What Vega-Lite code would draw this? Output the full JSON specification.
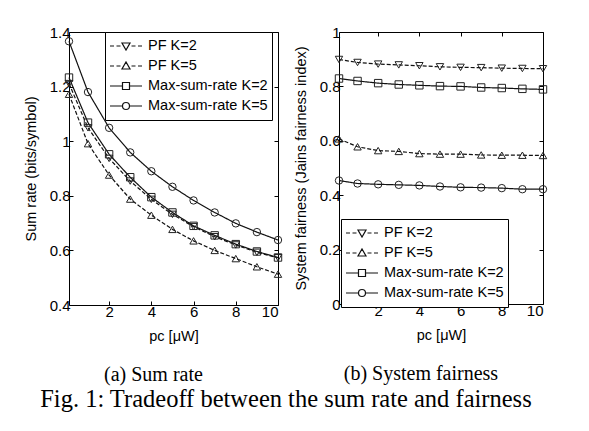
{
  "$schema": "https://vega.github.io/schema/vega-lite/v6.json",
  "background": "white",
  "padding": {"left": 23, "top": 25, "right": 5, "bottom": 5},
  "spacing": 9,
  "title": {"text": "Fig. 1: Tradeoff between the sum rate and fairness", "orient": "bottom", "anchor": "middle", "frame": "bounds", "font": "Liberation Serif", "fontSize": 24.5, "fontWeight": "normal", "color": "black", "offset": 3},
  "config": {
    "view": {"stroke": null},
    "axis": {"domainColor": "black", "domainWidth": 1, "tickColor": "black", "tickSize": -4, "labelPadding": 3, "labelFont": "Liberation Sans", "labelFontSize": 15, "labelColor": "black", "titleFont": "Liberation Sans", "titleFontSize": 14.5, "titleFontWeight": "normal", "titleColor": "black", "grid": false},
    "legend": {"strokeColor": "black", "fillColor": "white", "padding": 4, "symbolSize": 400, "clipHeight": 20, "labelOffset": 17, "labelFont": "Liberation Sans", "labelFontSize": 14.5, "labelColor": "black", "rowPadding": 0, "symbolStrokeColor": "#111", "symbolStrokeWidth": 1.2, "symbolFillColor": "white"}
  },
  "datasets": {
    "sumrate": [
      {"scheme": "PF K=2", "pc": 0.1, "rate": 1.211}, {"scheme": "PF K=2", "pc": 1, "rate": 1.049}, {"scheme": "PF K=2", "pc": 2, "rate": 0.937}, {"scheme": "PF K=2", "pc": 3, "rate": 0.854}, {"scheme": "PF K=2", "pc": 4, "rate": 0.787}, {"scheme": "PF K=2", "pc": 5, "rate": 0.732}, {"scheme": "PF K=2", "pc": 6, "rate": 0.687}, {"scheme": "PF K=2", "pc": 7, "rate": 0.650}, {"scheme": "PF K=2", "pc": 8, "rate": 0.620}, {"scheme": "PF K=2", "pc": 9, "rate": 0.593}, {"scheme": "PF K=2", "pc": 10, "rate": 0.573},
      {"scheme": "PF K=5", "pc": 0.1, "rate": 1.172}, {"scheme": "PF K=5", "pc": 1, "rate": 0.991}, {"scheme": "PF K=5", "pc": 2, "rate": 0.876}, {"scheme": "PF K=5", "pc": 3, "rate": 0.788}, {"scheme": "PF K=5", "pc": 4, "rate": 0.729}, {"scheme": "PF K=5", "pc": 5, "rate": 0.677}, {"scheme": "PF K=5", "pc": 6, "rate": 0.635}, {"scheme": "PF K=5", "pc": 7, "rate": 0.600}, {"scheme": "PF K=5", "pc": 8, "rate": 0.570}, {"scheme": "PF K=5", "pc": 9, "rate": 0.540}, {"scheme": "PF K=5", "pc": 10, "rate": 0.513},
      {"scheme": "Max-sum-rate K=2", "pc": 0.1, "rate": 1.233}, {"scheme": "Max-sum-rate K=2", "pc": 1, "rate": 1.068}, {"scheme": "Max-sum-rate K=2", "pc": 2, "rate": 0.952}, {"scheme": "Max-sum-rate K=2", "pc": 3, "rate": 0.868}, {"scheme": "Max-sum-rate K=2", "pc": 4, "rate": 0.795}, {"scheme": "Max-sum-rate K=2", "pc": 5, "rate": 0.739}, {"scheme": "Max-sum-rate K=2", "pc": 6, "rate": 0.690}, {"scheme": "Max-sum-rate K=2", "pc": 7, "rate": 0.655}, {"scheme": "Max-sum-rate K=2", "pc": 8, "rate": 0.623}, {"scheme": "Max-sum-rate K=2", "pc": 9, "rate": 0.596}, {"scheme": "Max-sum-rate K=2", "pc": 10, "rate": 0.574},
      {"scheme": "Max-sum-rate K=5", "pc": 0.1, "rate": 1.366}, {"scheme": "Max-sum-rate K=5", "pc": 1, "rate": 1.180}, {"scheme": "Max-sum-rate K=5", "pc": 2, "rate": 1.049}, {"scheme": "Max-sum-rate K=5", "pc": 3, "rate": 0.959}, {"scheme": "Max-sum-rate K=5", "pc": 4, "rate": 0.890}, {"scheme": "Max-sum-rate K=5", "pc": 5, "rate": 0.833}, {"scheme": "Max-sum-rate K=5", "pc": 6, "rate": 0.783}, {"scheme": "Max-sum-rate K=5", "pc": 7, "rate": 0.739}, {"scheme": "Max-sum-rate K=5", "pc": 8, "rate": 0.699}, {"scheme": "Max-sum-rate K=5", "pc": 9, "rate": 0.667}, {"scheme": "Max-sum-rate K=5", "pc": 10, "rate": 0.638}
    ],
    "fairness": [
      {"scheme": "PF K=2", "pc": 0.1, "fair": 0.899}, {"scheme": "PF K=2", "pc": 1, "fair": 0.888}, {"scheme": "PF K=2", "pc": 2, "fair": 0.882}, {"scheme": "PF K=2", "pc": 3, "fair": 0.879}, {"scheme": "PF K=2", "pc": 4, "fair": 0.876}, {"scheme": "PF K=2", "pc": 5, "fair": 0.872}, {"scheme": "PF K=2", "pc": 6, "fair": 0.870}, {"scheme": "PF K=2", "pc": 7, "fair": 0.869}, {"scheme": "PF K=2", "pc": 8, "fair": 0.867}, {"scheme": "PF K=2", "pc": 9, "fair": 0.866}, {"scheme": "PF K=2", "pc": 10, "fair": 0.865},
      {"scheme": "PF K=5", "pc": 0.1, "fair": 0.607}, {"scheme": "PF K=5", "pc": 1, "fair": 0.578}, {"scheme": "PF K=5", "pc": 2, "fair": 0.564}, {"scheme": "PF K=5", "pc": 3, "fair": 0.561}, {"scheme": "PF K=5", "pc": 4, "fair": 0.553}, {"scheme": "PF K=5", "pc": 5, "fair": 0.551}, {"scheme": "PF K=5", "pc": 6, "fair": 0.551}, {"scheme": "PF K=5", "pc": 7, "fair": 0.548}, {"scheme": "PF K=5", "pc": 8, "fair": 0.547}, {"scheme": "PF K=5", "pc": 9, "fair": 0.547}, {"scheme": "PF K=5", "pc": 10, "fair": 0.546},
      {"scheme": "Max-sum-rate K=2", "pc": 0.1, "fair": 0.829}, {"scheme": "Max-sum-rate K=2", "pc": 1, "fair": 0.820}, {"scheme": "Max-sum-rate K=2", "pc": 2, "fair": 0.812}, {"scheme": "Max-sum-rate K=2", "pc": 3, "fair": 0.807}, {"scheme": "Max-sum-rate K=2", "pc": 4, "fair": 0.804}, {"scheme": "Max-sum-rate K=2", "pc": 5, "fair": 0.801}, {"scheme": "Max-sum-rate K=2", "pc": 6, "fair": 0.800}, {"scheme": "Max-sum-rate K=2", "pc": 7, "fair": 0.796}, {"scheme": "Max-sum-rate K=2", "pc": 8, "fair": 0.794}, {"scheme": "Max-sum-rate K=2", "pc": 9, "fair": 0.791}, {"scheme": "Max-sum-rate K=2", "pc": 10, "fair": 0.789},
      {"scheme": "Max-sum-rate K=5", "pc": 0.1, "fair": 0.454}, {"scheme": "Max-sum-rate K=5", "pc": 1, "fair": 0.443}, {"scheme": "Max-sum-rate K=5", "pc": 2, "fair": 0.440}, {"scheme": "Max-sum-rate K=5", "pc": 3, "fair": 0.438}, {"scheme": "Max-sum-rate K=5", "pc": 4, "fair": 0.436}, {"scheme": "Max-sum-rate K=5", "pc": 5, "fair": 0.432}, {"scheme": "Max-sum-rate K=5", "pc": 6, "fair": 0.429}, {"scheme": "Max-sum-rate K=5", "pc": 7, "fair": 0.428}, {"scheme": "Max-sum-rate K=5", "pc": 8, "fair": 0.426}, {"scheme": "Max-sum-rate K=5", "pc": 9, "fair": 0.422}, {"scheme": "Max-sum-rate K=5", "pc": 10, "fair": 0.422}
    ]
  },
  "hconcat": [
    {
      "width": 209, "height": 273,
      "title": {"text": "(a) Sum rate", "orient": "bottom", "anchor": "middle", "frame": "bounds", "font": "Liberation Serif", "fontSize": 20, "fontWeight": "normal", "color": "black", "offset": 22},
      "data": {"name": "sumrate"},
      "layer": [
        {
          "mark": {"type": "line", "color": "#111", "strokeWidth": 1.2},
          "encoding": {
            "x": {"field": "pc", "type": "quantitative", "scale": {"domain": [0.1, 10], "nice": false, "zero": false}, "axis": {"orient": "bottom", "values": [2, 4, 6, 8, 10], "title": "pc [μW]", "titlePadding": 10}},
            "y": {"field": "rate", "type": "quantitative", "scale": {"domain": [0.4, 1.4], "nice": false, "zero": false}, "axis": {"orient": "left", "values": [0.4, 0.6, 0.8, 1, 1.2, 1.4], "format": ".1~f", "title": "Sum rate (bits/symbol)", "titlePadding": 11}},
            "strokeDash": {"field": "scheme", "type": "nominal", "scale": {"domain": ["PF K=2", "PF K=5", "Max-sum-rate K=2", "Max-sum-rate K=5"], "range": [[4, 2], [4, 2], [1, 0], [1, 0]]}, "legend": null}
          }
        },
        {
          "mark": {"type": "point", "filled": false, "color": "#222", "strokeWidth": 1, "size": 55, "opacity": 1},
          "encoding": {
            "x": {"field": "pc", "type": "quantitative", "scale": {"domain": [0.1, 10], "nice": false, "zero": false}, "axis": {"orient": "top", "values": [2, 4, 6, 8, 10], "labels": false, "title": null}},
            "y": {"field": "rate", "type": "quantitative", "scale": {"domain": [0.4, 1.4], "nice": false, "zero": false}, "axis": {"orient": "right", "values": [0.4, 0.6, 0.8, 1, 1.2, 1.4], "labels": false, "title": null}},
            "shape": {"field": "scheme", "type": "nominal", "scale": {"domain": ["PF K=2", "PF K=5", "Max-sum-rate K=2", "Max-sum-rate K=5"], "range": ["triangle-down", "triangle-up", "square", "circle"]}, "legend": null}
          }
        },
        {
          "transform": [{"filter": "false"}],
          "mark": {"type": "point", "filled": false, "color": "#111", "strokeWidth": 1.2, "opacity": 1},
          "encoding": {
            "shape": {"field": "scheme", "type": "nominal",
              "scale": {"domain": ["PF K=2", "PF K=5", "Max-sum-rate K=2", "Max-sum-rate K=5"], "range": [
                "M-1,0H-0.6M-0.35,0H0.05M1.15,0H1.55M1.8,0H2.2M0.2,-0.3H1L0.6,0.4Z",
                "M-1,0H-0.6M-0.35,0H0.05M1.15,0H1.55M1.8,0H2.2M0.2,0.3H1L0.6,-0.4Z",
                "M-1,0H0.25M0.95,0H2.2M0.25,-0.35H0.95V0.35H0.25Z",
                "M-1,0H0.25M0.95,0H2.2M0.25,0A0.35,0.35,0,1,0,0.95,0A0.35,0.35,0,1,0,0.25,0Z"]},
              "legend": {"title": null, "orient": "none", "legendX": 36, "legendY": 0}}
          }
        }
      ],
      "resolve": {"axis": {"x": "independent", "y": "independent"}, "scale": {"shape": "independent"}}
    },
    {
      "width": 204, "height": 272,
      "title": {"text": "(b) System fairness", "orient": "bottom", "anchor": "middle", "frame": "bounds", "font": "Liberation Serif", "fontSize": 20, "fontWeight": "normal", "color": "black", "offset": 22},
      "data": {"name": "fairness"},
      "layer": [
        {
          "mark": {"type": "line", "color": "#111", "strokeWidth": 1.2},
          "encoding": {
            "x": {"field": "pc", "type": "quantitative", "scale": {"domain": [0.1, 10], "nice": false, "zero": false}, "axis": {"orient": "bottom", "values": [2, 4, 6, 8, 10], "title": "pc [μW]", "titlePadding": 10}},
            "y": {"field": "fair", "type": "quantitative", "scale": {"domain": [0, 1], "nice": false}, "axis": {"orient": "left", "values": [0, 0.2, 0.4, 0.6, 0.8, 1], "format": ".1~f", "title": "System fairness (Jains fairness index)", "titlePadding": 11}},
            "strokeDash": {"field": "scheme", "type": "nominal", "scale": {"domain": ["PF K=2", "PF K=5", "Max-sum-rate K=2", "Max-sum-rate K=5"], "range": [[4, 2], [4, 2], [1, 0], [1, 0]]}, "legend": null}
          }
        },
        {
          "mark": {"type": "point", "filled": false, "color": "#222", "strokeWidth": 1, "size": 55, "opacity": 1},
          "encoding": {
            "x": {"field": "pc", "type": "quantitative", "scale": {"domain": [0.1, 10], "nice": false, "zero": false}, "axis": {"orient": "top", "values": [2, 4, 6, 8, 10], "labels": false, "title": null}},
            "y": {"field": "fair", "type": "quantitative", "scale": {"domain": [0, 1], "nice": false}, "axis": {"orient": "right", "values": [0, 0.2, 0.4, 0.6, 0.8, 1], "labels": false, "title": null}},
            "shape": {"field": "scheme", "type": "nominal", "scale": {"domain": ["PF K=2", "PF K=5", "Max-sum-rate K=2", "Max-sum-rate K=5"], "range": ["triangle-down", "triangle-up", "square", "circle"]}, "legend": null}
          }
        },
        {
          "transform": [{"filter": "false"}],
          "mark": {"type": "point", "filled": false, "color": "#111", "strokeWidth": 1.2, "opacity": 1},
          "encoding": {
            "shape": {"field": "scheme", "type": "nominal",
              "scale": {"domain": ["PF K=2", "PF K=5", "Max-sum-rate K=2", "Max-sum-rate K=5"], "range": [
                "M-1,0H-0.6M-0.35,0H0.05M1.15,0H1.55M1.8,0H2.2M0.2,-0.3H1L0.6,0.4Z",
                "M-1,0H-0.6M-0.35,0H0.05M1.15,0H1.55M1.8,0H2.2M0.2,0.3H1L0.6,-0.4Z",
                "M-1,0H0.25M0.95,0H2.2M0.25,-0.35H0.95V0.35H0.25Z",
                "M-1,0H0.25M0.95,0H2.2M0.25,0A0.35,0.35,0,1,0,0.95,0A0.35,0.35,0,1,0,0.25,0Z"]},
              "legend": {"title": null, "orient": "none", "legendX": 2, "legendY": 187}}
          }
        }
      ],
      "resolve": {"axis": {"x": "independent", "y": "independent"}, "scale": {"shape": "independent"}}
    }
  ]
}
